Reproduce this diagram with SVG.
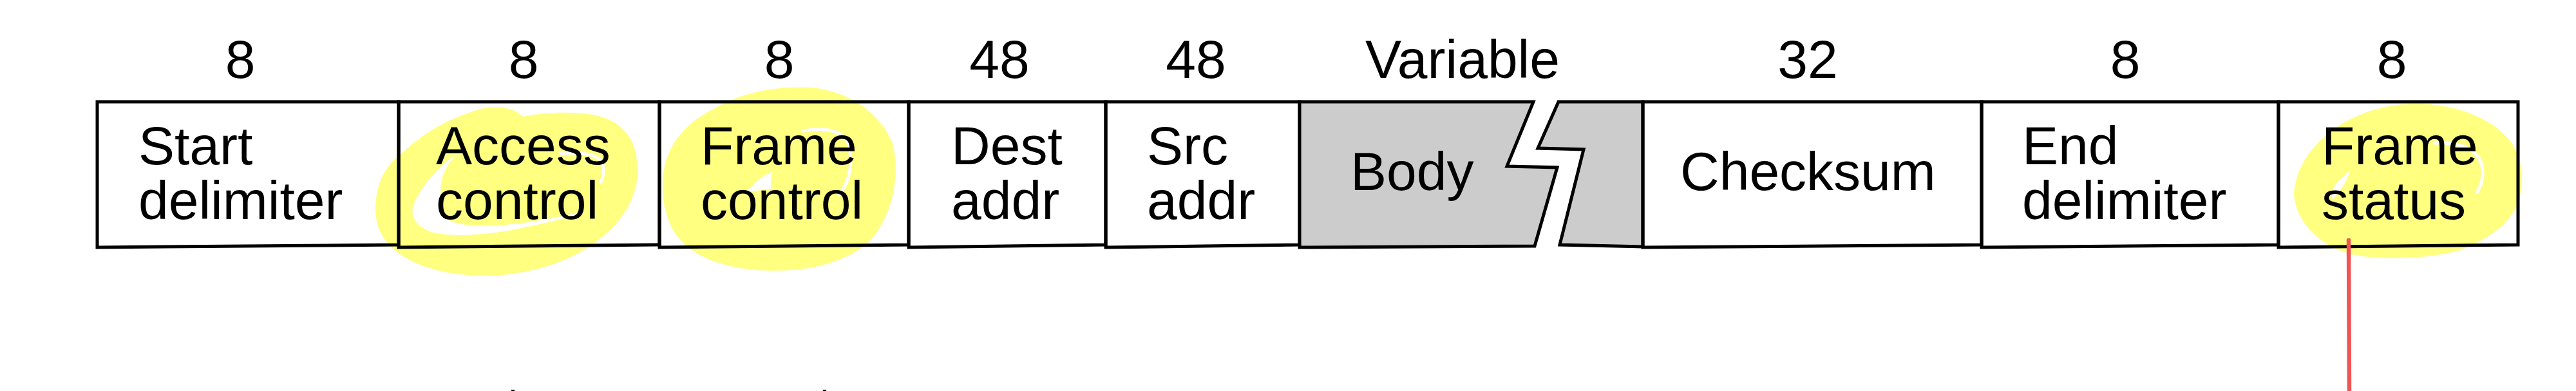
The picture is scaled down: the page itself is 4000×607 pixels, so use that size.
<svg xmlns="http://www.w3.org/2000/svg" width="4000" height="607" viewBox="0 0 4000 607">
<style>
.t{font-family:"Liberation Sans",Arial,sans-serif;font-size:84px;fill:#000}
.n{font-family:"Liberation Sans",Arial,sans-serif;font-size:84px;fill:#000;text-anchor:middle}
.box{fill:none;stroke:#000;stroke-width:5;stroke-linejoin:miter}
.body{fill:#cccccc;stroke:#000;stroke-width:5;stroke-linejoin:miter}
.hl{fill:#ffff80;stroke:none}
.gap{fill:#ffffff;stroke:none}
.gapl{fill:none;stroke:#ffffff;stroke-width:5;stroke-linecap:round}
.red{fill:none;stroke:#ef5555;stroke-width:6.5;stroke-linecap:round}
</style>
<rect x="0" y="0" width="4000" height="607" fill="#ffffff"/>
<g id="highlights">
<path class="hl" d="M583,320 C585,280 600,255 627,235 C655,210 690,185 747,169 C780,162 800,170 812,181 C840,175 880,172 920,178 C965,186 992,215 990,270 C988,310 965,345 930,372 C895,400 845,420 780,427 C710,432 650,418 615,390 C590,370 582,345 583,320 Z"/>
<path class="gap" d="M712,237 C685,255 655,285 642,318 C636,338 648,355 677,362 C710,368 760,364 800,356 C845,347 885,338 912,327 C880,334 835,344 795,348 C755,352 720,352 700,343 C684,333 681,305 687,275 C693,258 702,245 712,237 Z"/>
<path class="gapl" d="M870,238 C905,236 932,240 936,255 C938,266 936,276 933,283"/>
<path class="hl" d="M1030,270 C1035,225 1065,190 1110,168 C1150,145 1200,133 1260,136 C1320,142 1365,175 1385,220 C1398,265 1390,330 1350,375 C1310,410 1250,422 1190,420 C1130,418 1075,400 1050,365 C1030,335 1027,300 1030,270 Z"/>
<path class="gap" d="M1200,266 C1185,272 1168,285 1160,298 C1175,296 1188,294 1198,293 C1196,285 1197,275 1200,266 Z"/>
<path class="gapl" d="M1247,203 C1280,198 1310,200 1318,225 C1325,255 1318,285 1303,302"/>
<path class="hl" d="M3562,300 C3565,260 3590,220 3640,190 C3680,168 3720,160 3760,161 C3810,163 3860,180 3890,210 C3915,235 3920,270 3913,305 C3905,340 3870,370 3820,388 C3780,400 3720,404 3670,398 C3610,390 3565,350 3562,300 Z"/>
<path class="gap" d="M3650,265 C3630,278 3617,295 3622,309 C3632,300 3642,285 3650,265 Z"/>
<path class="gapl" d="M3780,222 C3810,220 3840,228 3850,247 C3858,262 3856,282 3847,298"/>
</g>
<g id="field-start">
<text class="n" x="373" y="121">8</text>
<polygon class="box" points="151,158 619,158 619,380 151,384"/>
<text class="t" x="215" y="255">Start</text>
<text class="t" x="215" y="340">delimiter</text>
</g>
<g id="field-access">
<text class="n" x="813" y="121">8</text>
<polygon class="box" points="619,158 1024,158 1024,380 619,384"/>
<text class="t" x="677" y="255">Access</text>
<text class="t" x="677" y="340">control</text>
</g>
<g id="field-frame-control">
<text class="n" x="1210" y="121">8</text>
<polygon class="box" points="1024,158 1411,158 1411,380 1024,384"/>
<text class="t" x="1088" y="255">Frame</text>
<text class="t" x="1088" y="340">control</text>
</g>
<g id="field-dest">
<text class="n" x="1552" y="121">48</text>
<polygon class="box" points="1411,158 1717,158 1717,380 1411,384"/>
<text class="t" x="1477" y="255">Dest</text>
<text class="t" x="1477" y="340">addr</text>
</g>
<g id="field-src">
<text class="n" x="1857" y="121">48</text>
<polygon class="box" points="1717,158 2018,158 2018,380 1717,384"/>
<text class="t" x="1781" y="255">Src</text>
<text class="t" x="1781" y="340">addr</text>
</g>
<g id="field-body">
<text class="n" x="2271" y="121">Variable</text>
<polygon class="body" points="2018,158 2381,158 2340,258 2418,260 2383,382 2018,384"/>
<polygon class="body" points="2420,158 2551,158 2551,383 2422,380 2459,232 2388,230"/>
<text class="t" x="2097" y="295">Body</text>
</g>
<g id="field-checksum">
<text class="n" x="2807" y="121">32</text>
<polygon class="box" points="2551,158 3077,158 3077,380 2551,384"/>
<text class="t" x="2609" y="295">Checksum</text>
</g>
<g id="field-end">
<text class="n" x="3300" y="121">8</text>
<polygon class="box" points="3077,158 3538,158 3538,380 3077,384"/>
<text class="t" x="3140" y="255">End</text>
<text class="t" x="3140" y="340">delimiter</text>
</g>
<g id="field-frame-status">
<text class="n" x="3714" y="121">8</text>
<polygon class="box" points="3538,158 3910,158 3910,380 3538,384"/>
<text class="t" x="3605" y="255">Frame</text>
<text class="t" x="3605" y="340">status</text>
</g>
<g id="connectors">
<line class="red" x1="3647" y1="373" x2="3648" y2="612"/>
<rect x="794" y="605" width="5" height="2" fill="#000"/>
<rect x="1278" y="605" width="5" height="2" fill="#000"/>
</g>
</svg>
